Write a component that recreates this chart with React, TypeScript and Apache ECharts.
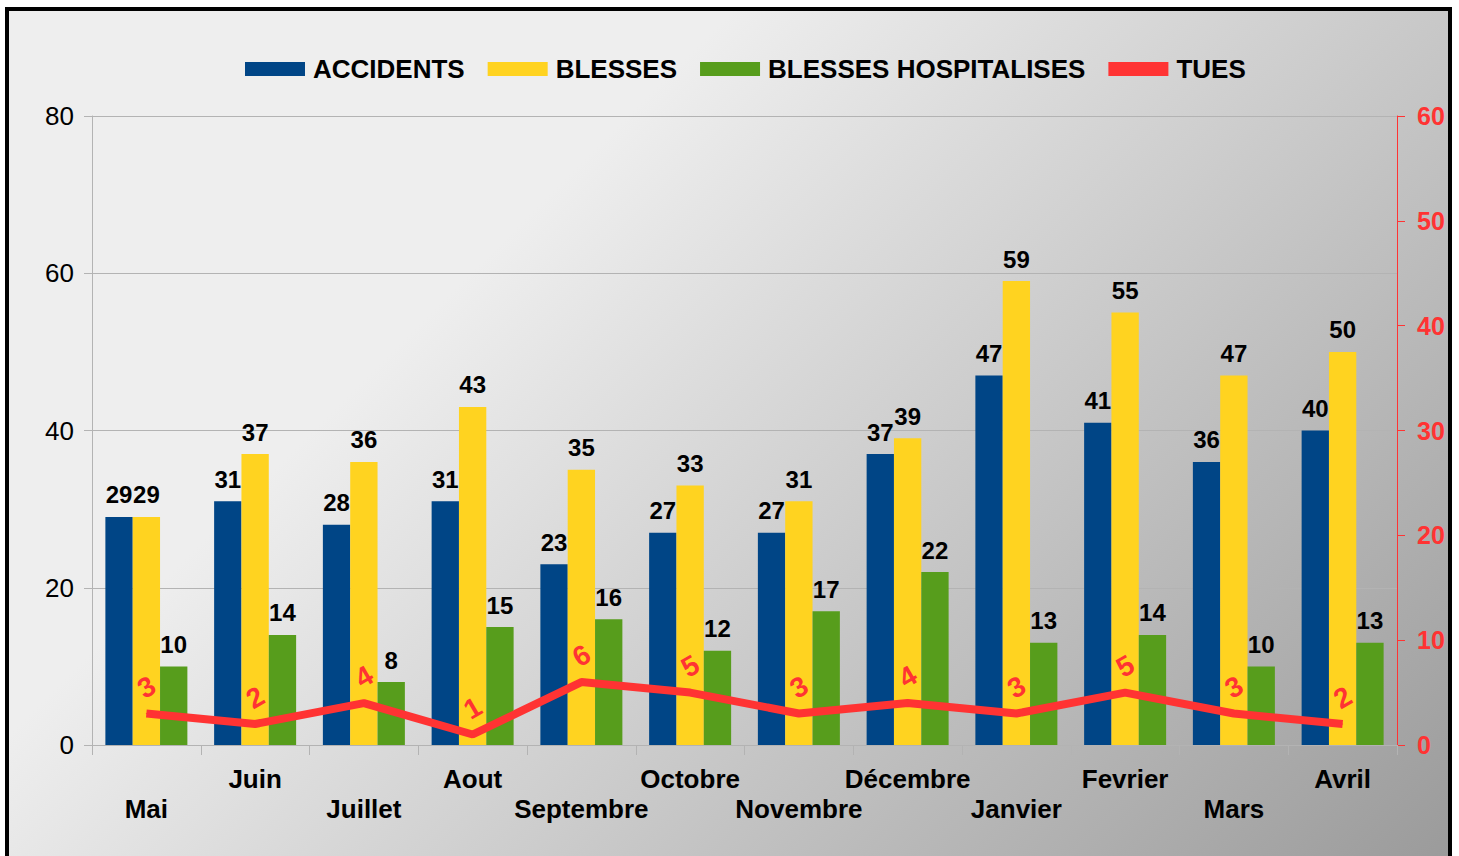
import React, { useEffect, useRef } from "react";
import * as echarts from "echarts";

const categories = ["Mai", "Juin", "Juillet", "Aout", "Septembre", "Octobre", "Novembre", "Décembre", "Janvier", "Fevrier", "Mars", "Avril"];
const accidents = [29, 31, 28, 31, 23, 27, 27, 37, 47, 41, 36, 40];
const blesses = [29, 37, 36, 43, 35, 33, 31, 39, 59, 55, 47, 50];
const blessesHosp = [10, 14, 8, 15, 16, 12, 17, 22, 13, 14, 10, 13];
const tues = [3, 2, 4, 1, 6, 5, 3, 4, 3, 5, 3, 2];

const FONT = "'Liberation Sans', Arial, sans-serif";
const RED = "#ff3333";
const GRID_GREY = "#b3b3b3";

export default function App() {
  const ref = useRef<HTMLDivElement>(null);

  useEffect(() => {
    if (!ref.current) return;
    const chart = echarts.init(ref.current, null, { renderer: "svg" });
    const barLabel = {
      show: true,
      position: "top",
      distance: 10,
      color: "#000",
      fontFamily: FONT,
      fontSize: 24,
      fontWeight: "bold",
    };
    chart.setOption({
      animation: false,
      backgroundColor: "transparent",
      textStyle: { fontFamily: FONT },
      legend: {
        left: 236,
        top: 45,
        padding: 0,
        icon: "rect",
        itemWidth: 60,
        itemHeight: 14,
        itemGap: 23,
        textStyle: { fontFamily: FONT, fontSize: 26, fontWeight: "bold", color: "#000", padding: [0, 0, 0, 3] },
        data: ["ACCIDENTS", "BLESSES", "BLESSES HOSPITALISES", "TUES"],
      },
      grid: { left: 83, right: 51, top: 105, bottom: 111, containLabel: false },
      xAxis: {
        type: "category",
        data: categories,
        axisLine: { lineStyle: { color: GRID_GREY, width: 1 } },
        axisTick: { show: true, length: 10, lineStyle: { color: GRID_GREY } },
        axisLabel: {
          interval: 0,
          margin: 19,
          fontFamily: FONT,
          fontSize: 26,
          fontWeight: "bold",
          color: "#000",
          lineHeight: 30,
          verticalAlign: "top",
          formatter: (v: string, i: number) => (i % 2 === 0 ? "\n" + v : v),
        },
      },
      yAxis: [
        {
          type: "value",
          min: 0,
          max: 80,
          interval: 20,
          axisLine: { show: true, lineStyle: { color: GRID_GREY } },
          axisTick: { show: true, length: 8, lineStyle: { color: GRID_GREY } },
          splitLine: { show: true, lineStyle: { color: GRID_GREY, width: 1 } },
          axisLabel: { margin: 18, fontFamily: FONT, fontSize: 26, color: "#000" },
        },
        {
          type: "value",
          min: 0,
          max: 60,
          interval: 10,
          position: "right",
          axisLine: { show: true, lineStyle: { color: RED } },
          axisTick: { show: true, length: 8, lineStyle: { color: RED } },
          splitLine: { show: false },
          axisLabel: { margin: 20, fontFamily: FONT, fontSize: 25, fontWeight: "bold", color: RED },
        },
      ],
      series: [
        {
          name: "ACCIDENTS",
          type: "bar",
          data: accidents,
          barGap: "0%",
          barCategoryGap: "24.6%",
          itemStyle: { color: "#004586" },
          label: barLabel,
        },
        {
          name: "BLESSES",
          type: "bar",
          data: blesses,
          barGap: "0%",
          barCategoryGap: "24.6%",
          itemStyle: { color: "#ffd320" },
          label: barLabel,
        },
        {
          name: "BLESSES HOSPITALISES",
          type: "bar",
          data: blessesHosp,
          barGap: "0%",
          barCategoryGap: "24.6%",
          itemStyle: { color: "#579d1c" },
          label: barLabel,
        },
        {
          name: "TUES",
          type: "line",
          yAxisIndex: 1,
          data: tues,
          symbol: "circle",
          symbolSize: 1,
          showSymbol: true,
          itemStyle: { color: RED },
          lineStyle: { color: RED, width: 8 },
          z: 5,
          label: {
            show: true,
            position: "top",
            distance: 26,
            rotate: 30,
            align: "center",
            verticalAlign: "middle",
            color: RED,
            fontFamily: FONT,
            fontSize: 28,
            fontWeight: "bold",
          },
        },
      ],
    });
    return () => chart.dispose();
  }, []);

  return (
    <div
      style={{
        position: "fixed",
        left: 5,
        top: 7,
        width: 1447,
        height: 849,
        boxSizing: "border-box",
        borderTop: "4px solid #000",
        borderLeft: "4px solid #000",
        borderRight: "4px solid #000",
      }}
    >
      <div
        ref={ref}
        style={{
          width: 1439,
          height: 845,
          background: "linear-gradient(135deg, #eeeeee 31.7%, #9b9b9b 100%)",
        }}
      />
    </div>
  );
}
